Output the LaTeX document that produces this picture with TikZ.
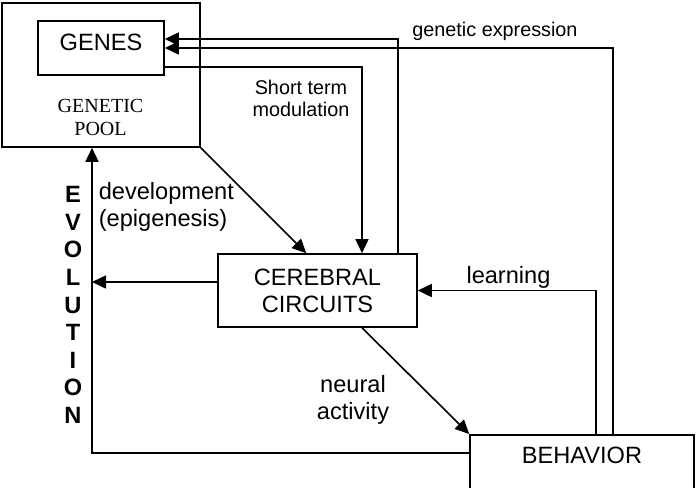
\documentclass[tikz,border=0pt]{standalone}
\usepackage{fontspec}
\setmainfont{Liberation Sans}
\newfontfamily\serifpool{Liberation Serif}
\usetikzlibrary{arrows.meta}

\begin{document}
\begin{tikzpicture}[x=0.5pt, y=-0.5pt, line width=0.8pt,
    box/.style={draw, inner sep=0, align=center, font=\fontsize{11.8}{13.5}\selectfont},
    lbl/.style={inner sep=0, align=center, font=\fontsize{11.8}{13.5}\selectfont},
    small/.style={inner sep=0, align=center, font=\fontsize{9.9}{11}\selectfont},
    arr/.style={-{Triangle[length=7pt, width=6.5pt]}}]
    \clip (0, 0) rectangle (698, 488);

    \path (101, 75)     node[box, minimum width=99pt, minimum height=72pt] (pool) {};
    \path (101, 48)     node[box, minimum width=63pt, minimum height=27pt, text depth=6pt] (genes) {GENES};
    \path (100.5, 117)  node[inner sep=0, align=center, font=\serifpool\fontsize{10}{11.5}\selectfont] (poolname) {GENETIC\\POOL};
    \path (317.5, 290.5) node[box, minimum width=99.5pt, minimum height=36.5pt] (cerebral) {CEREBRAL\\CIRCUITS};
    \path (582, 434)    node[box, anchor=north, minimum width=112pt, text height=14.5pt, text depth=30pt] (behavior) {BEHAVIOR};
    \coordinate (evo) at ([xshift=-4.5pt]pool.south);

    \path (495, 31)     node[small] (expr) {genetic expression};
    \path (301, 98)     node[small] (modul) {Short term\\modulation};
    \path (98, 206.5)   node[lbl, anchor=west, align=left] (devel) {development\\(epigenesis)};
    \path (508.5, 277)  node[lbl] (learn) {learning};
    \path (353, 399.5)  node[lbl] (neural) {neural\\activity};
    \path (73, 305)     node[lbl, font=\bfseries\fontsize{11.8}{13.8}\selectfont] (evolution) {E\\V\\O\\L\\U\\T\\I\\O\\N};

    \draw[arr] ([xshift=40.25pt]cerebral.north) |- ([yshift=4.5pt]genes.east);
    \draw[arr] ([xshift=15.5pt]behavior.north) |- (genes.east);
    \draw[arr] ([yshift=-9.5pt]genes.east) -| ([xshift=22.25pt]cerebral.north);

    \draw[arr] (pool.south east) -- ([xshift=44.5pt]cerebral.north west);
    \draw[arr] ([yshift=4.25pt]cerebral.west) coordinate (cw) -- (cw -| evo);
    \draw[arr] ([yshift=-9.5pt]behavior.north west) -| (evo);

    \draw[arr] ([xshift=7pt]behavior.north) |- (cerebral.east);
    \draw[arr] ([xshift=22.25pt]cerebral.south) -- (behavior.north west);
\end{tikzpicture}
\end{document}
